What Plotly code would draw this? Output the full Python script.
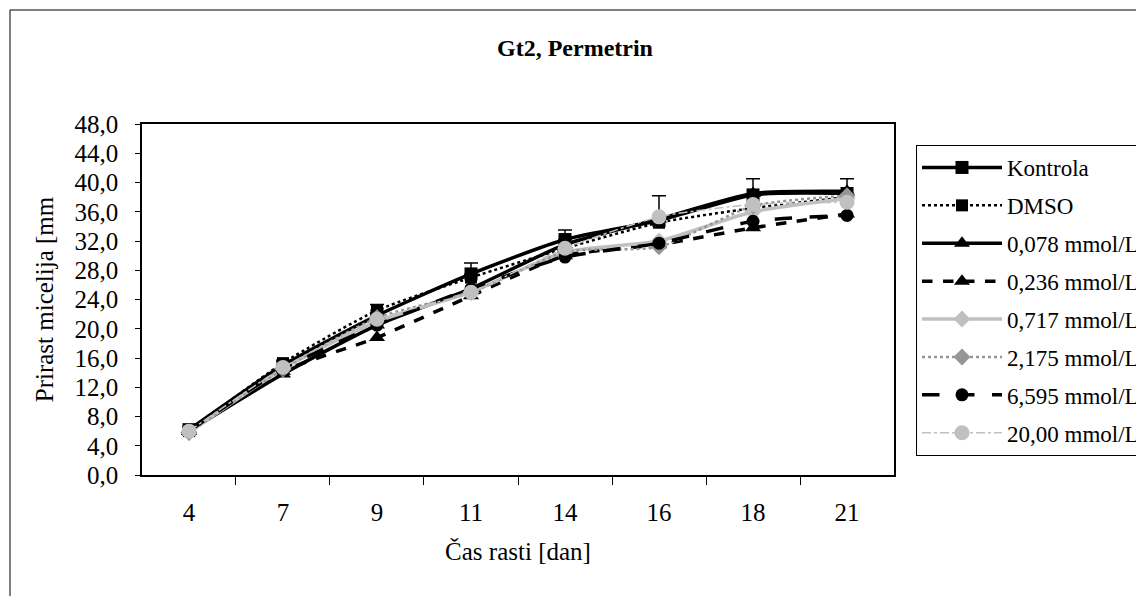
import plotly.graph_objects as go

days = ["4", "7", "9", "11", "14", "16", "18", "21"]

kontrola = [6.2, 15.0, 21.8, 27.5, 32.2, 34.8, 38.3, 38.5]
kontrola_err = [0.4, 0.6, 1.5, 1.5, 1.3, 3.4, 2.2, 2.0]
dmso = [6.0, 15.3, 22.5, 27.0, 31.0, 34.5, 36.5, 38.0]
c0078 = [6.0, 13.8, 20.5, 25.5, 31.5, 35.0, 38.5, 38.8]
c0236 = [6.0, 14.2, 18.8, 24.5, 30.0, 31.5, 33.8, 35.7]
c0717 = [5.8, 14.5, 21.0, 25.0, 30.5, 32.0, 36.0, 37.8]
c2175 = [5.8, 14.5, 21.5, 25.0, 30.5, 31.2, 36.8, 38.2]
c6595 = [6.0, 14.5, 20.5, 25.5, 29.8, 31.7, 34.7, 35.5]
c2000 = [6.0, 14.7, 21.3, 25.0, 31.0, 35.3, 37.0, 37.3]

series = [
    ("Kontrola", kontrola, "black", "solid", 3.5, "square", 13, "black"),
    ("DMSO", dmso, "black", "dot", 2.5, "square", 12, "black"),
    ("0,078 mmol/L", c0078, "black", "solid", 3.5, "triangle-up", 14, "black"),
    ("0,236 mmol/L", c0236, "black", "dash", 3.5, "triangle-up", 14, "black"),
    ("0,717 mmol/L", c0717, "#c0c0c0", "solid", 3.5, "diamond", 13, "#c0c0c0"),
    ("2,175 mmol/L", c2175, "#969696", "dot", 2.5, "diamond", 13, "#969696"),
    ("6,595 mmol/L", c6595, "black", "longdash", 3.5, "circle", 13, "black"),
    ("20,00 mmol/L", c2000, "#c0c0c0", "dashdot", 1.5, "circle", 15, "#c0c0c0"),
]

FF = "Liberation Serif, Times New Roman, serif"

fig = go.Figure()
for i, (name, vals, col, dash, w, sym, ms, mcol) in enumerate(series):
    kw = {}
    if name == "Kontrola":
        kw["error_y"] = dict(type="data", symmetric=False, array=kontrola_err,
                             arrayminus=[0] * len(days), color="black",
                             thickness=1.5, width=7)
    fig.add_trace(go.Scatter(
        x=days, y=vals, name=name, mode="lines+markers",
        line=dict(color=col, dash=dash, width=w, shape="spline", smoothing=0.6),
        marker=dict(symbol=sym, size=ms, color=mcol, line=dict(width=0)),
        legendgroup=f"g{i}", **kw))

W, H = 1136, 588  # page body has an 8px margin
L, T, PW, PH = 134, 116, 752, 351
fig.update_layout(
    width=W, height=H,
    paper_bgcolor="white", plot_bgcolor="white",
    margin=dict(l=L, r=W - L - PW, t=T, b=H - T - PH, autoexpand=False),
    separators=", ",
    font=dict(family=FF, size=24, color="black"),
    title=dict(text="<b>Gt2, Permetrin</b>", x=567 / W, xref="container",
               y=1 - 40 / H, yref="container", xanchor="center", yanchor="middle",
               font=dict(family=FF, size=24, color="black")),
    legend=dict(x=(908 - L) / PW, y=(T + PH - 137) / PH, xanchor="left", yanchor="top",
                bordercolor="black", borderwidth=1, bgcolor="white",
                tracegroupgap=5, itemwidth=80,
                font=dict(family=FF, size=23, color="black")),
    showlegend=True,
)
fig.update_xaxes(
    type="category", categoryorder="array", categoryarray=days,
    tickson="boundaries", ticks="outside", ticklen=8, tickcolor="black",
    ticklabelstandoff=14,
    showline=True, linecolor="black", linewidth=1.5, mirror=True,
    showgrid=False, zeroline=False,
    title=dict(text="Čas rasti [dan]", font=dict(family=FF, size=25), standoff=18),
    tickfont=dict(family=FF, size=25),
)
fig.update_yaxes(
    range=[0, 48], dtick=4, tick0=0, tickformat=".1f",
    ticks="outside", ticklen=5, tickcolor="black",
    ticklabelstandoff=12,
    showline=True, linecolor="black", linewidth=1.5, mirror=True,
    showgrid=False, zeroline=False,
    title=dict(text="Prirast micelija [mm", font=dict(family=FF, size=25), standoff=14),
    tickfont=dict(family=FF, size=25),
)
# outer chart border
fig.add_shape(type="rect", xref="paper", yref="paper",
              x0=(2 - L) / PW, x1=(W + 10 - L) / PW,
              y0=(T + PH - H - 10) / PH, y1=(T + PH - 2) / PH,
              line=dict(color="black", width=1), fillcolor="rgba(0,0,0,0)", layer="below")

fig.write_html("out.html")
